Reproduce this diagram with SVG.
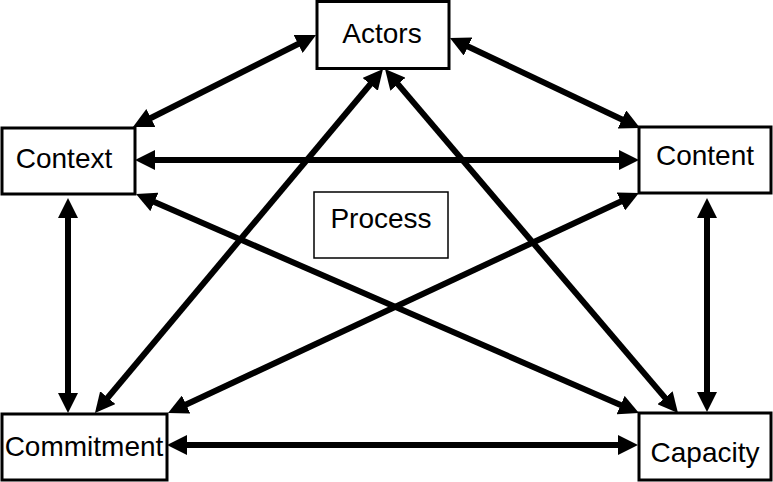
<svg xmlns="http://www.w3.org/2000/svg" width="773" height="482" viewBox="0 0 773 482">
<style>
.box{fill:#fff;stroke:#000;stroke-width:3}
.pbox{fill:#fff;stroke:#000;stroke-width:1.5}
.lbl{font-family:"Liberation Sans",Arial,sans-serif;font-size:28px;fill:#000;text-anchor:middle}
.conn{stroke:#000;stroke-width:6;fill:none;marker-start:url(#head);marker-end:url(#head)}
</style>
<defs>
<marker id="head" viewBox="0 0 20 20" markerWidth="20" markerHeight="20" markerUnits="userSpaceOnUse" refX="10" refY="10" orient="auto-start-reverse">
<path d="M0,0 L20,10 L0,20 z" fill="#000"/>
</marker>
</defs>
<rect width="773" height="482" fill="#fff"/>
<g id="connectors">
<line class="conn" x1="141.9" y1="122.5" x2="307.1" y2="39.5"/>
<line class="conn" x1="459" y1="42.3" x2="631" y2="123.7"/>
<line class="conn" x1="145" y1="160" x2="629" y2="160"/>
<line class="conn" x1="68" y1="208" x2="68" y2="403"/>
<line class="conn" x1="707" y1="208" x2="707" y2="402"/>
<line class="conn" x1="177" y1="445" x2="628" y2="445"/>
<line class="conn" x1="376.6" y1="76.7" x2="101.4" y2="405.3"/>
<line class="conn" x1="391.5" y1="76.6" x2="671.5" y2="405.4"/>
<line class="conn" x1="145.2" y1="198" x2="629.8" y2="409"/>
<line class="conn" x1="629.9" y1="197.2" x2="177.1" y2="408.8"/>
</g>
<g id="actors"><rect class="box" x="317" y="1.5" width="132" height="67"/><text class="lbl" x="382" y="43">Actors</text></g>
<g id="context"><rect class="box" x="2" y="128" width="133" height="66"/><text class="lbl" x="64" y="168">Context</text></g>
<g id="content"><rect class="box" x="639" y="127" width="132" height="66"/><text class="lbl" x="705" y="165">Content</text></g>
<g id="process"><rect class="pbox" x="314" y="192" width="134" height="66"/><text class="lbl" x="381" y="228">Process</text></g>
<g id="commitment"><rect class="box" x="2" y="414" width="165" height="66"/><text class="lbl" x="84" y="456">Commitment</text></g>
<g id="capacity"><rect class="box" x="639" y="413" width="132" height="67"/><text class="lbl" x="705" y="462">Capacity</text></g>
</svg>
